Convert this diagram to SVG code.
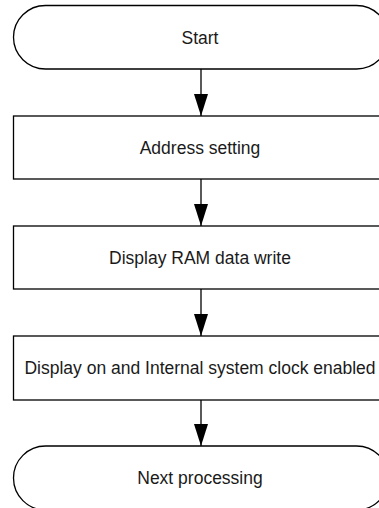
<svg xmlns="http://www.w3.org/2000/svg" width="379" height="508" viewBox="0 0 379 508">
<style>
.s{fill:#fff;stroke:#000;stroke-width:1.3}
.t{font-family:"Liberation Sans",Arial,sans-serif;font-size:17.5px;fill:#1a1a1a;text-anchor:middle}
.c{stroke:#000;stroke-width:1.3;fill:none}
</style>
<defs>
<marker id="ah" markerUnits="userSpaceOnUse" markerWidth="22" markerHeight="14" refX="22" refY="7" orient="auto" viewBox="0 0 22 14">
<path d="M0,0 L22,7 L0,14 Z" fill="#000"/>
</marker>
</defs>
<rect width="379" height="508" fill="#fff"/>
<g id="connectors">
<line class="c" x1="201" y1="69" x2="201" y2="116" marker-end="url(#ah)"/>
<line class="c" x1="201" y1="179" x2="201" y2="226" marker-end="url(#ah)"/>
<line class="c" x1="201" y1="289" x2="201" y2="336" marker-end="url(#ah)"/>
<line class="c" x1="201" y1="400" x2="201" y2="446" marker-end="url(#ah)"/>
</g>
<g id="start">
<rect class="s" x="13.5" y="5.5" width="375" height="63.5" rx="32" ry="32"/>
<text class="t" x="200" y="44">Start</text>
</g>
<g id="address">
<rect class="s" x="13.5" y="116" width="375" height="63"/>
<text class="t" x="200" y="154">Address setting</text>
</g>
<g id="ramwrite">
<rect class="s" x="13.5" y="226" width="375" height="63"/>
<text class="t" x="200" y="264">Display RAM data write</text>
</g>
<g id="displayon">
<rect class="s" x="13.5" y="336" width="375" height="64"/>
<text class="t" x="200" y="374">Display on and Internal system clock enabled</text>
</g>
<g id="next">
<rect class="s" x="13.5" y="446" width="375" height="64" rx="32" ry="32"/>
<text class="t" x="200" y="484">Next processing</text>
</g>
</svg>
